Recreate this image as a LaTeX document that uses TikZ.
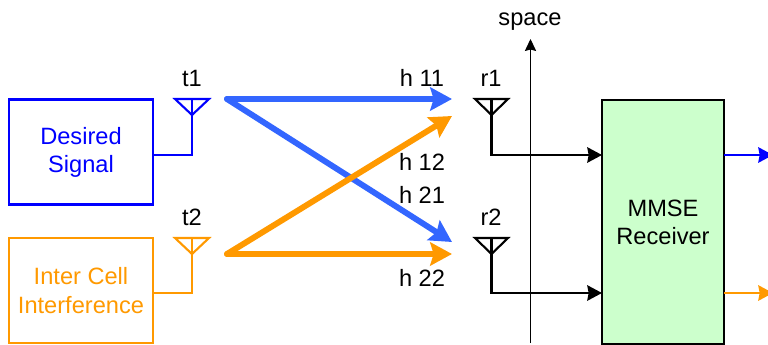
\documentclass[tikz,border=0pt]{standalone}
\usepackage{fontspec}
\setmainfont{Liberation Sans}
\usepackage{xcolor}
\usetikzlibrary{arrows.meta,positioning,calc}
\definecolor{sigblue}{HTML}{0000FF}
\definecolor{linkblue}{HTML}{3366FF}
\definecolor{intorange}{HTML}{FF9900}
\definecolor{rxgreen}{HTML}{CCFFCC}

\begin{document}
\begin{tikzpicture}[
    every node/.style={font=\fontsize{16.8}{20}\selectfont, align=center, inner sep=0pt, outer sep=0pt},
    srcbox/.style={draw, line width=1.5pt, minimum width=3.6cm, minimum height=2.625cm},
    rxbox/.style={draw=black, fill=rxgreen, line width=1.5pt, minimum width=3.05cm, minimum height=6.1cm},
    aerial/.style={line width=1.5pt, line join=miter},
    link/.style={-{Stealth[length=15.5pt, width=16.5pt, inset=2.5pt]}, line width=4.2pt, line cap=round},
    wire/.style={-{Stealth[length=10.5pt, width=11pt, inset=1pt]}, line width=1.5pt},
    axis/.style={-{Stealth[length=8.5pt, width=8pt, inset=1pt]}, line width=0.7pt},
]
\useasboundingbox (0,0) rectangle (19.2,8.6);

% === SOURCES ===
\node[srcbox, draw=sigblue, text=sigblue] (desired) at (2.025,4.8) {Desired\\Signal};
\node[srcbox, draw=intorange, text=intorange] (inter) at (2.025,1.3375) {Inter Cell\\Interference};

% Transmit antennas
\node (t1) at (4.8,6.65) {t1};
\node (t2) at (4.8,3.175) {t2};
\coordinate (t1tip) at (4.8,5.725);
\coordinate (t2tip) at (4.8,2.25);
\draw[aerial, sigblue] (4.375,6.125) -- (5.225,6.125) -- (t1tip) -- cycle;
\draw[aerial, sigblue] (4.8,6.125) -- (t1tip);
\draw[aerial, intorange] (4.375,2.65) -- (5.225,2.65) -- (t2tip) -- cycle;
\draw[aerial, intorange] (4.8,2.65) -- (t2tip);
\coordinate (t1in) at (3.825,4.725);
\coordinate (t2in) at (3.825,1.275);
\draw[aerial, sigblue] (t1tip) |- (t1in);
\draw[aerial, intorange] (t2tip) |- (t2in);

% === CHANNEL ===
\coordinate (blue0) at (5.675,6.125);
\coordinate (orange0) at (5.675,2.25);
\coordinate (end11) at (11.3,6.125);
\coordinate (end12) at (11.3,5.7);
\coordinate (end21) at (11.3,2.55);
\coordinate (end22) at (11.3,2.25);

\draw[link, linkblue] (blue0) -- (end21);
\draw[link, intorange] (orange0) -- (end12);
\draw[link, linkblue] (blue0) -- (end11);
\draw[link, intorange] (orange0) -- (end22);

\node (h11) at (10.55,6.65) {h 11};
\node (h12) at (10.55,4.55) {h 12};
\node (h21) at (10.55,3.725) {h 21};
\node (h22) at (10.55,1.65) {h 22};

% === RECEIVER ===
\node[rxbox] (mmse) at (16.575,3.05) {MMSE\\Receiver};

% Space axis
\node (space) at (13.25,8.05) {space};
\coordinate (axis0) at (13.2625,0.025);
\coordinate (axis1) at (13.2625,7.625);
\draw[axis] (axis0) -- (axis1);

% Receive antennas
\node (r1) at (12.275,6.65) {r1};
\node (r2) at (12.275,3.175) {r2};
\coordinate (r1tip) at (12.2875,5.725);
\coordinate (r2tip) at (12.2875,2.25);
\draw[aerial] (11.875,6.125) -- (12.7,6.125) -- (r1tip) -- cycle;
\draw[aerial] (12.2875,6.125) -- (r1tip);
\draw[aerial] (11.875,2.65) -- (12.7,2.65) -- (r2tip) -- cycle;
\draw[aerial] (12.2875,2.65) -- (r2tip);

\coordinate (r1in) at (15.05,4.725);
\coordinate (r2in) at (15.05,1.275);
\draw[wire] (r1tip) |- (r1in);
\draw[wire] (r2tip) |- (r2in);

% Outputs
\coordinate (out1) at (18.1,4.725);
\coordinate (out2) at (18.1,1.275);
\coordinate (end1) at (19.325,4.725);
\coordinate (end2) at (19.325,1.275);
\draw[wire, sigblue] (out1) -- (end1);
\draw[wire, intorange] (out2) -- (end2);

\end{tikzpicture}
\end{document}
